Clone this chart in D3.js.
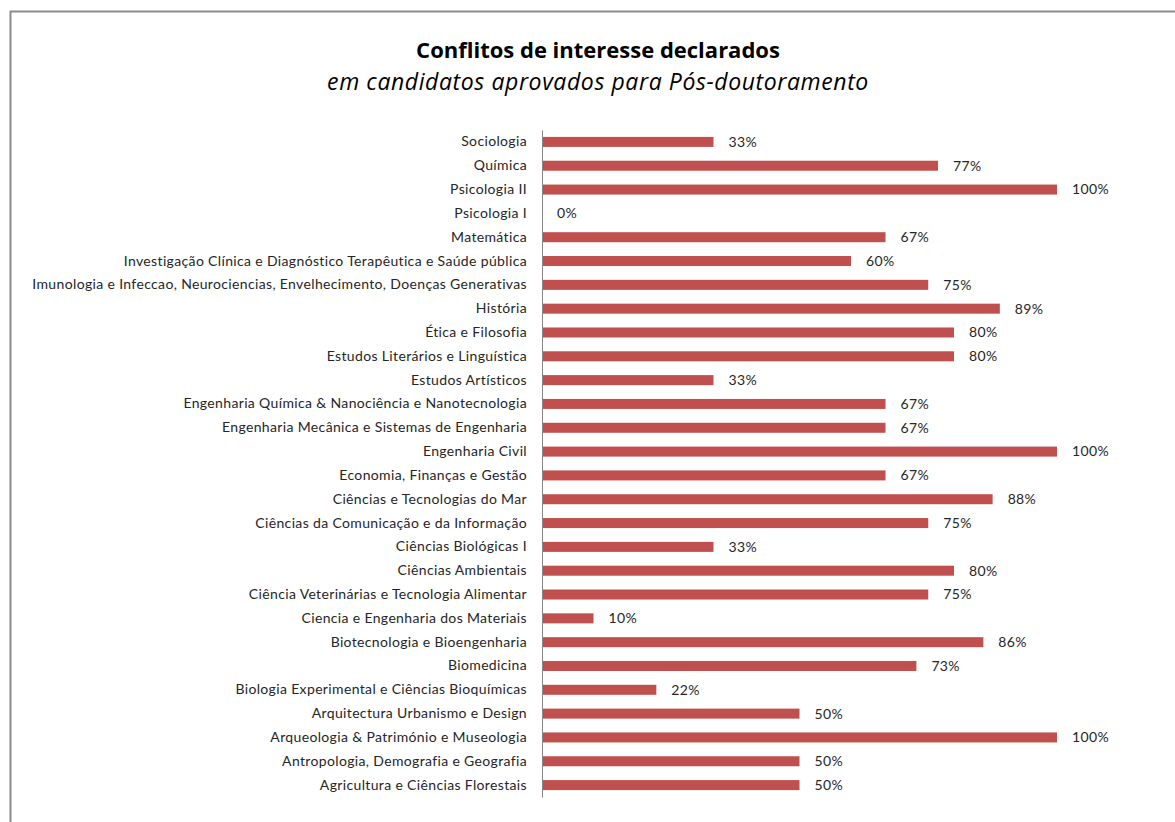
<!DOCTYPE html>
<html>
<head>
<meta charset="utf-8">
<script src="https://cdn.jsdelivr.net/npm/d3@7"></script>
<style>
  body { margin: 0; background: #fff; }
  svg { display: block; font-family: Lato, "Open Sans", sans-serif; }
  .cat { font-size: 14px; letter-spacing: 0.35px; fill: #262626; }
  .val { font-size: 14px; letter-spacing: 0.35px; fill: #262626; }
</style>
</head>
<body>
<div id="chart"></div>
<script>
// categories top to bottom, values in percent (labels show them rounded)
var categories = [
  "Sociologia",
  "Química",
  "Psicologia II",
  "Psicologia I",
  "Matemática",
  "Investigação Clínica e Diagnóstico Terapêutica e Saúde pública",
  "Imunologia e Infeccao, Neurociencias, Envelhecimento, Doenças Generativas",
  "História",
  "Ética e Filosofia",
  "Estudos Literários e Linguística",
  "Estudos Artísticos",
  "Engenharia Química & Nanociência e Nanotecnologia",
  "Engenharia Mecânica e Sistemas de Engenharia",
  "Engenharia Civil",
  "Economia, Finanças e Gestão",
  "Ciências e Tecnologias do Mar",
  "Ciências da Comunicação e da Informação",
  "Ciências Biológicas I",
  "Ciências Ambientais",
  "Ciência Veterinárias e Tecnologia Alimentar",
  "Ciencia e Engenharia dos Materiais",
  "Biotecnologia e Bioengenharia",
  "Biomedicina",
  "Biologia Experimental e Ciências Bioquímicas",
  "Arquitectura Urbanismo e Design",
  "Arqueologia & Património e Museologia",
  "Antropologia, Demografia e Geografia",
  "Agricultura e Ciências Florestais"
];
var values = [33.3, 76.9, 100, 0, 66.7, 60, 75, 88.9, 80, 80, 33.3, 66.7, 66.7, 100, 66.7,
              87.5, 75, 33.3, 80, 75, 10, 85.7, 72.7, 22.2, 50, 100, 50, 50];

var title = "Conflitos de interesse declarados";
var subtitle = "em candidatos aprovados para Pós-doutoramento";

var width = 1175, height = 822;
var margins = {top: 130, left: 542, right: 118, bottom: 25};

var svg = d3.select("#chart").append("svg")
    .attr("width", width)
    .attr("height", height);

// chart area border (runs off right and bottom)
svg.append("rect")
    .attr("x", 10.5)
    .attr("y", 11.5)
    .attr("width", width + 20)
    .attr("height", height + 20)
    .attr("fill", "#fff")
    .attr("stroke", "#8c8c8c")
    .attr("stroke-width", 2);

svg.append("text")
    .attr("x", 598)
    .attr("y", 58)
    .attr("text-anchor", "middle")
    .style("font-family", "'Open Sans', sans-serif")
    .style("font-weight", "bold")
    .style("font-size", "22px")
    .attr("fill", "#000")
    .text(title);

svg.append("text")
    .attr("x", 598)
    .attr("y", 90)
    .attr("text-anchor", "middle")
    .style("font-family", "'Open Sans', sans-serif")
    .style("font-style", "italic")
    .style("font-size", "23px")
    .style("letter-spacing", "0.6px")
    .attr("fill", "#000")
    .text(subtitle);

var x = d3.scaleLinear()
    .domain([0, 100])
    .range([margins.left, width - margins.right]);

var y = d3.scaleBand()
    .domain(categories)
    .range([margins.top, height - margins.bottom])
    .paddingInner(0.58)
    .paddingOuter(0.29);

// bars
svg.append("g").selectAll("rect")
    .data(values)
    .enter().append("rect")
    .attr("x", x(0))
    .attr("y", function (d, i) { return y(categories[i]); })
    .attr("width", function (d) { return x(d) - x(0); })
    .attr("height", y.bandwidth())
    .attr("fill", "#c0504d");

// value labels
svg.append("g").selectAll("text")
    .data(values)
    .enter().append("text")
    .attr("class", "val")
    .attr("x", function (d) { return x(d) + 15; })
    .attr("y", function (d, i) { return y(categories[i]) + y.bandwidth() / 2; })
    .attr("dy", "0.35em")
    .text(function (d) { return Math.round(d) + "%"; });

// vertical axis
var yAxis = d3.axisLeft(y).tickSize(0).tickPadding(15);
var axisG = svg.append("g")
    .attr("transform", "translate(" + x(0) + ",0)")
    .call(yAxis);
axisG.select(".domain").attr("stroke", "#868686");
axisG.selectAll(".tick text")
    .attr("class", "cat")
    .attr("fill", null)
    .style("font-family", null)
    .style("font-size", null);
axisG.attr("font-family", null).attr("font-size", null);
</script>
</body>
</html>
